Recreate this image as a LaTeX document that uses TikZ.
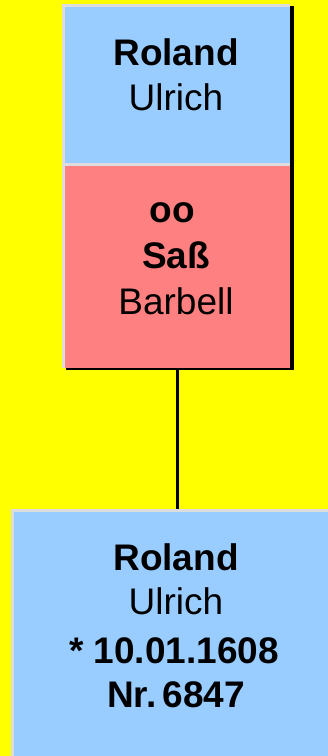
\documentclass[tikz,border=0pt]{standalone}
\usepackage{fontspec}
\setmainfont{Liberation Sans}
\definecolor{bg}{HTML}{FFFF00}
\definecolor{boxblue}{HTML}{99CCFF}
\definecolor{boxred}{HTML}{FF8080}
\definecolor{hlgray}{HTML}{DDDDDD}
\begin{document}
\begin{tikzpicture}[x=1pt,y=-1pt,
  box/.style={rectangle,inner sep=0pt,outer sep=0pt,draw=none},
  hl/.style={draw=hlgray,line width=2.5pt},
  txt/.style={anchor=base,inner sep=0pt,font=\fontsize{37}{45}\selectfont},
  btxt/.style={txt,font=\fontsize{37}{45}\selectfont\bfseries},
  conn/.style={draw=black,line width=3pt}]
\useasboundingbox (0,0) rectangle (328,756);
\clip (0,0) rectangle (328,756);
\fill[bg] (0,0) rectangle (328,756);
% shadow behind upper couple
\node[box,fill=black,minimum width=228pt,minimum height=364pt] (shadow) at (179.5,188) {};
% upper boxes
\node[box,fill=boxblue,minimum width=228pt,minimum height=159pt] (top) at (176,83.5) {};
\node[box,fill=boxred,minimum width=228pt,minimum height=205pt] (wife) at (176,265.5) {};
\draw[hl] ([shift={(1.25,0)}]top.south west) -- ([shift={(1.25,1.25)}]top.north west) -- ([shift={(0,1.25)}]top.north east);
\draw[hl] ([shift={(1.25,0)}]wife.south west) -- ([shift={(1.25,1.25)}]wife.north west) -- ([shift={(0,1.25)}]wife.north east);
% bottom box
\node[box,fill=boxblue,minimum width=330pt,minimum height=262pt] (child) at (176,640) {};
\draw[hl] ([shift={(1.25,0)}]child.south west) -- ([shift={(1.25,1.25)}]child.north west) -- ([shift={(0,1.25)}]child.north east);
% connector
\draw[conn] (wife.south -| 177,0) -- (child.north -| 177,0);
% texts
\node[btxt] (t1) at (176,65) {Roland};
\node[txt] (t2) at (176,110) {Ulrich};
\node[btxt] (w1) at (172,222) {oo};
\node[btxt] (w2) at (176,268) {Saß};
\node[txt] (w3) at (176,314) {Barbell};
\node[btxt] (c1) at (176,570) {Roland};
\node[txt] (c2) at (176,614) {Ulrich};
\node[btxt] (c3) at (174,663) {* 10.01.1608};
\node[btxt] (c4) at (176,707) {Nr.\hspace{6pt}6847};
\end{tikzpicture}
\end{document}
